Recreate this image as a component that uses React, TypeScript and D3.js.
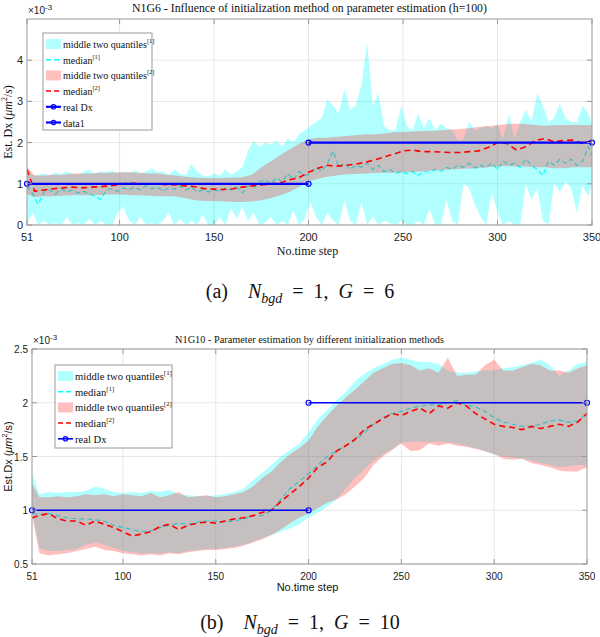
import React from 'react';
import * as d3 from 'd3';

// time steps (x axis index)
const steps3 = [...d3.range(51, 349, 3), 350];
const steps5 = [51, ...d3.range(55, 351, 5)];
const xTicks = [51, 100, 150, 200, 250, 300, 350];

// ---- panel (a) N1G6 ----
const cyanUpperA = [
  1.35, 1.2, 1.22, 1.25, 1.2, 1.28, 1.23, 1.3, 1.25, 1.22,
  1.3, 1.35, 1.25, 1.3, 1.28, 1.32, 1.25, 1.3, 1.27, 1.33,
  1.25, 1.3, 1.38, 1.28, 1.3, 1.22, 1.35, 1.25, 1.2, 1.48,
  1.3, 1.2, 1.18, 1.25, 1.2, 1.35, 1.22, 1.3, 1.4, 1.8,
  2.05, 1.9, 2.0, 1.95, 2.05, 1.9, 2.1, 2.0, 2.2, 2.3,
  2.4, 2.5, 2.6, 3.05, 2.9, 2.7, 3.3, 2.8, 2.9, 3.4,
  4.45, 2.9, 3.2, 2.4, 2.3, 2.3, 2.9, 2.4, 2.3, 2.7,
  2.35, 2.6, 2.3, 2.45, 2.35, 2.3, 2.05, 2.1, 2.5, 2.3,
  2.35, 2.4, 2.35, 2.45, 2.1, 2.7, 2.1, 2.5, 2.8, 2.5,
  3.2, 2.9, 2.5, 2.6, 2.95, 2.6, 2.5, 2.5, 2.9, 2.7,
  2.45,
];
const cyanLowerA = [
  0.05, 0.3, 0.0, 0.1, 0.0, 0.05, 0.0, 0.2, 0.0, 0.05,
  0.0, 0.15, 0.0, 0.1, 0.0, 0.0, 0.3, 0.45, 0.1, 0.0,
  0.2, 0.0, 0.05, 0.0, 0.1, 0.3, 0.0, 0.15, 0.0, 0.1,
  0.0, 0.25, 0.0, 0.0, 0.2, 0.0, 0.4, 0.15, 0.45, 0.1,
  0.3, 0.0, 0.05, 0.2, 0.0, 0.1, 0.0, 0.35, 0.0, 0.15,
  0.55, 0.2, 0.0, 0.3, 0.1, 0.0, 0.6, 0.1, 0.0, 0.55,
  0.0, 0.2, 0.0, 0.1, 0.05, 0.0, 0.1, 0.0, 0.0, 0.1,
  0.0, 0.4, 0.0, 0.0, 0.6, 0.1, 0.0, 1.0, 0.9, 0.5,
  0.2, 0.0, 0.8, 0.3, 0.0, 0.1, 0.0, 0.0, 1.0, 0.6,
  0.9, 0.1, 0.0, 1.0, 0.8, 1.05, 0.9, 0.3, 0.95, 0.7,
  1.0,
];
const cyanMedianA = [
  0.95, 0.75, 0.5, 0.8, 0.85, 0.75, 0.88, 0.8, 0.85, 0.78,
  0.82, 0.75, 0.7, 0.62, 0.85, 0.88, 0.82, 0.9, 0.85, 0.92,
  0.85, 0.95, 0.88, 0.92, 0.82, 0.9, 0.87, 0.95, 0.85, 0.92,
  0.8, 0.85, 0.8, 0.85, 0.82, 0.9, 0.85, 0.92, 0.78, 0.95,
  0.9, 1.05, 1.1, 1.0, 1.15, 1.05, 1.25, 1.1, 1.3, 1.2,
  1.25, 1.4, 1.3, 1.5, 1.8, 1.4, 1.5, 1.35, 1.45, 1.4,
  1.5, 1.35, 1.45, 1.3, 1.35, 1.25, 1.3, 1.25, 1.3, 1.2,
  1.3, 1.28, 1.35, 1.3, 1.4, 1.35, 1.45, 1.4, 1.5, 1.38,
  1.45, 1.4, 1.5, 1.35, 1.55, 1.45, 1.5, 1.4, 1.6, 1.45,
  1.35, 1.2, 1.55, 1.45, 1.6, 1.5, 1.6, 1.45, 1.55, 1.9,
  1.7,
];
const redUpperA = [
  1.4, 1.2, 1.2, 1.22, 1.22, 1.25, 1.25, 1.25, 1.27, 1.27,
  1.28, 1.28, 1.27, 1.25, 1.25, 1.22, 1.2, 1.17, 1.15, 1.14,
  1.14, 1.14, 1.15, 1.16, 1.22, 1.4, 1.55, 1.7, 1.83, 1.97,
  2.08, 2.12, 2.12, 2.14, 2.16, 2.18, 2.2, 2.2, 2.22, 2.25,
  2.26, 2.27, 2.28, 2.28, 2.3, 2.32, 2.33, 2.35, 2.38, 2.4,
  2.42, 2.45, 2.46, 2.45, 2.43, 2.41, 2.42, 2.43, 2.43, 2.43,
  2.42,
];
const redLowerA = [
  0.75, 0.68, 0.7, 0.7, 0.71, 0.72, 0.72, 0.72, 0.73, 0.74,
  0.74, 0.73, 0.72, 0.71, 0.7, 0.7, 0.69, 0.65, 0.6, 0.58,
  0.58, 0.57, 0.56, 0.56, 0.57, 0.6, 0.65, 0.72, 0.8, 0.92,
  1.05, 1.12, 1.17, 1.2, 1.23, 1.24, 1.25, 1.26, 1.27, 1.27,
  1.28, 1.29, 1.3, 1.32, 1.33, 1.35, 1.36, 1.37, 1.38, 1.4,
  1.42, 1.43, 1.42, 1.42, 1.4, 1.4, 1.38, 1.38, 1.4, 1.4,
  1.4,
];
const redMedianA = [
  1.35, 0.82, 0.85, 0.88, 0.9, 0.92, 0.9, 0.92, 0.93, 0.95,
  0.98, 1.02, 1.0, 1.0, 1.0, 0.98, 0.97, 0.95, 0.93, 0.88,
  0.87, 0.86, 0.88, 0.92, 0.95, 0.97, 1.0, 1.02, 1.1, 1.15,
  1.28, 1.38, 1.45, 1.43, 1.45, 1.48, 1.52, 1.58, 1.65, 1.72,
  1.8, 1.82, 1.78, 1.78, 1.77, 1.76, 1.76, 1.78, 1.8, 1.88,
  2.0, 1.98, 1.82, 1.9, 2.05, 2.1, 2.02, 2.05, 2.06, 1.98,
  2.05,
];

// ---- panel (b) N1G10 ----
const cyanUpperB = [
  1.35, 1.15, 1.17, 1.16, 1.17, 1.17, 1.18, 1.22, 1.2, 1.17,
  1.16, 1.17, 1.16, 1.18, 1.17, 1.19, 1.15, 1.14, 1.13, 1.13,
  1.14, 1.15, 1.17, 1.2, 1.28, 1.35, 1.42, 1.5, 1.56, 1.62,
  1.72, 1.85, 1.93, 2.02, 2.1, 2.2, 2.27, 2.32, 2.36, 2.4,
  2.42, 2.4, 2.38, 2.38, 2.36, 2.3, 2.28, 2.28, 2.29, 2.3,
  2.3, 2.32, 2.33, 2.35, 2.37, 2.4, 2.35, 2.25, 2.3, 2.36,
  2.38,
];
const cyanLowerB = [
  1.0, 0.65, 0.62, 0.62, 0.63, 0.64, 0.68, 0.7, 0.68, 0.65,
  0.62, 0.61, 0.6, 0.6, 0.6, 0.61, 0.6, 0.62, 0.63, 0.64,
  0.64, 0.65, 0.66, 0.68, 0.71, 0.74, 0.77, 0.8, 0.83, 0.87,
  0.93, 0.98, 1.03, 1.1, 1.2, 1.3, 1.38, 1.46, 1.52, 1.57,
  1.63, 1.64, 1.64, 1.63, 1.64, 1.63, 1.62, 1.6, 1.58, 1.55,
  1.52, 1.5, 1.49, 1.48, 1.46, 1.44, 1.42, 1.4, 1.41, 1.42,
  1.42,
];
const cyanMedianB = [
  0.97, 0.96, 0.97, 0.95, 0.93, 0.92, 0.92, 0.91, 0.9, 0.86,
  0.84, 0.82, 0.8, 0.81, 0.84, 0.86, 0.88, 0.87, 0.89, 0.9,
  0.9, 0.89, 0.9, 0.92, 0.95, 0.95, 1.0, 1.1, 1.2, 1.27,
  1.34, 1.42, 1.5, 1.55, 1.6, 1.65, 1.72, 1.8, 1.86, 1.9,
  1.92, 1.95, 1.97, 1.98, 1.98, 2.0, 2.02, 1.98, 1.96, 1.92,
  1.86, 1.82, 1.8, 1.78, 1.78, 1.8, 1.83, 1.84, 1.82, 1.83,
  1.9,
];
const redUpperB = [
  1.25, 1.12, 1.12, 1.13, 1.12, 1.13, 1.15, 1.14, 1.15, 1.13,
  1.15, 1.14, 1.13, 1.16, 1.12, 1.14, 1.17, 1.12, 1.13, 1.14,
  1.12, 1.13, 1.15, 1.17, 1.22, 1.3, 1.36, 1.45, 1.52, 1.58,
  1.65, 1.78, 1.88, 1.97, 2.05, 2.12, 2.2, 2.28, 2.32, 2.36,
  2.37, 2.35, 2.3, 2.32, 2.28, 2.42, 2.25, 2.26, 2.26, 2.35,
  2.4, 2.3, 2.3, 2.33, 2.36, 2.35, 2.3, 2.3, 2.28, 2.32,
  2.35,
];
const redLowerB = [
  0.95, 0.6, 0.58, 0.59, 0.6, 0.62, 0.64, 0.66, 0.63, 0.62,
  0.6, 0.59, 0.58, 0.59, 0.58, 0.6, 0.59, 0.61, 0.62, 0.63,
  0.63, 0.64, 0.65, 0.67, 0.7, 0.73, 0.77, 0.82, 0.88, 0.93,
  0.97, 1.02, 1.07, 1.1, 1.15, 1.22, 1.3, 1.42, 1.5, 1.56,
  1.62, 1.55, 1.56, 1.62, 1.6, 1.62, 1.6, 1.59, 1.57, 1.55,
  1.52, 1.48, 1.47, 1.48, 1.44, 1.42, 1.4, 1.37, 1.36, 1.36,
  1.4,
];
const redMedianB = [
  0.93, 0.95, 0.97, 0.92, 0.9, 0.9, 0.86, 0.9, 0.87, 0.84,
  0.8, 0.76, 0.78, 0.8, 0.85, 0.87, 0.82, 0.86, 0.88, 0.89,
  0.88, 0.9, 0.92, 0.93, 0.95, 0.98, 1.0, 1.08, 1.15, 1.22,
  1.3, 1.4, 1.45, 1.55, 1.6, 1.66, 1.75, 1.8, 1.85, 1.9,
  1.88, 1.92, 1.95, 1.9, 1.97, 1.95, 2.0, 1.97, 1.9, 1.85,
  1.8, 1.78, 1.77, 1.75, 1.78, 1.76, 1.78, 1.8, 1.78, 1.82,
  1.9,
];

// real Dx step
const realSteps = [51, 200, 350];
const realValues = [1, 1, 2];

const SERIF = "'Liberation Serif', 'DejaVu Serif', serif";
const SANS = "'Liberation Sans', Arial, sans-serif";
const BOX = '#9a9a9a';
const GRID = '#e6e6e6';

const panels = [
  {
    id: 'a',
    left: 27, right: 592, top: 19, bottom: 225,
    yDomain: [0, 5], yTicks: [0, 1, 2, 3, 4],
    cyan: { xs: steps3, up: cyanUpperA, lo: cyanLowerA, med: cyanMedianA },
    red: { xs: steps5, up: redUpperA, lo: redLowerA, med: redMedianA },
    title: 'N1G6 - Influence of initialization method on parameter estimation (h=100)',
    titleSize: 11.8, titleY: 12,
    tickFont: SANS, tickSize: 11,
    labelFont: SERIF, labelSize: 12, yLabelPre: 'Est. Dx ', xLabelY: 255,
    blueWidth: 2.2,
    legend: { x: 43, y: 33, w: 109, h: 97, rows: 6, font: 10, tx: 63 },
    capY: 298, cap: '(a)', capG: '6',
  },
  {
    id: 'b',
    left: 32, right: 587, top: 349, bottom: 564,
    yDomain: [0.5, 2.5], yTicks: [0.5, 1, 1.5, 2, 2.5],
    cyan: { xs: steps5, up: cyanUpperB, lo: cyanLowerB, med: cyanMedianB },
    red: { xs: steps5, up: redUpperB, lo: redLowerB, med: redMedianB },
    title: 'N1G10 - Parameter estimation by different initialization methods',
    titleSize: 10.3, titleY: 343,
    tickFont: SANS, tickSize: 10,
    labelFont: SANS, labelSize: 11, yLabelPre: 'Est.Dx ', xLabelY: 591,
    blueWidth: 1.6,
    legend: { x: 55, y: 365, w: 117, h: 83, rows: 5, font: 10.6, tx: 75 },
    capY: 629, cap: '(b)', capG: '10',
  },
];

const Legend = ({ p }: { p: any }) => {
  const { x, y, w, h, rows, font, tx } = p.legend;
  const rowH = 15.7;
  const sw0 = x + 3;
  const sw1 = tx - 2;
  const items = [
    { kind: 'patch', color: '#00ffff', op: 0.3, label: 'middle two quantiles', sup: '[1]' },
    { kind: 'line', color: '#00ffff', label: 'median', sup: '[1]' },
    { kind: 'patch', color: '#ff0000', op: 0.25, label: 'middle two quantiles', sup: '[2]' },
    { kind: 'line', color: '#ff0000', label: 'median', sup: '[2]' },
    { kind: 'marker', color: '#0000ff', label: 'real Dx' },
    { kind: 'marker', color: '#0000ff', label: 'data1' },
  ].slice(0, rows);
  return (
    <g>
      <rect x={x} y={y} width={w} height={h} fill="#fff" stroke={BOX} strokeWidth={1} />
      {items.map((it, i) => {
        const cy = y + 11 + i * rowH;
        return (
          <g key={i}>
            {it.kind === 'patch' && (
              <rect x={sw0} y={cy - 5} width={sw1 - sw0} height={10} fill={it.color} fillOpacity={it.op} />
            )}
            {it.kind === 'line' && (
              <line x1={sw0} x2={sw1} y1={cy} y2={cy} stroke={it.color} strokeWidth={1.5} strokeDasharray="5,3" />
            )}
            {it.kind === 'marker' && (
              <g>
                <line x1={sw0} x2={sw1} y1={cy} y2={cy} stroke={it.color} strokeWidth={p.blueWidth} />
                <circle cx={(sw0 + sw1) / 2} cy={cy} r={2.2} fill="none" stroke={it.color} strokeWidth={1.2} />
              </g>
            )}
            <text x={tx} y={cy + 4} fontFamily={SERIF} fontSize={font} fill="#111">
              {it.label}
              {it.sup && (
                <tspan fontSize={font * 0.65} dy={-5}>{it.sup}</tspan>
              )}
            </text>
          </g>
        );
      })}
    </g>
  );
};

const Panel = ({ p }: { p: any }) => {
  const x = d3.scaleLinear().domain([51, 350]).range([p.left, p.right]);
  const y = d3.scaleLinear().domain(p.yDomain).range([p.bottom, p.top]);
  const band = (xs: number[], up: number[], lo: number[]) =>
    d3.area<number>()
      .x((_, i) => x(xs[i]))
      .y0((_, i) => y(lo[i]))
      .y1((d) => y(d))(up) || '';
  const path = (xs: number[], vs: number[]) =>
    d3.line<number>().x((_, i) => x(xs[i])).y((d) => y(d))(vs) || '';
  const clipId = `clip-${p.id}`;
  const cx = (p.left + p.right) / 2;
  const cyMid = (p.top + p.bottom) / 2;
  const blueA = [0, 1].map((i) => ({ t: realSteps[i], v: realValues[0] }));
  const blueB = [1, 2].map((i) => ({ t: realSteps[i], v: realValues[2] }));
  return (
    <g>
      <defs>
        <clipPath id={clipId}>
          <rect x={p.left} y={p.top} width={p.right - p.left} height={p.bottom - p.top} />
        </clipPath>
      </defs>
      <rect x={p.left} y={p.top} width={p.right - p.left} height={p.bottom - p.top} fill="#fff" />
      {/* grid */}
      {xTicks.slice(1, -1).map((t) => (
        <line key={'gx' + t} x1={x(t)} x2={x(t)} y1={p.top} y2={p.bottom} stroke={GRID} />
      ))}
      {p.yTicks.map((t: number) => (
        <line key={'gy' + t} x1={p.left} x2={p.right} y1={y(t)} y2={y(t)} stroke={GRID} />
      ))}
      <g clipPath={`url(#${clipId})`}>
        <path d={band(p.cyan.xs, p.cyan.up, p.cyan.lo)} fill="#00ffff" fillOpacity={0.3} />
        <path d={path(p.cyan.xs, p.cyan.med)} fill="none" stroke="#00ffff" strokeWidth={1.2} strokeDasharray="5,3" />
        <path d={band(p.red.xs, p.red.up, p.red.lo)} fill="#ff0000" fillOpacity={0.25} />
        <path d={path(p.red.xs, p.red.med)} fill="none" stroke="#ff0000" strokeWidth={1.6} strokeDasharray="6,4" />
      </g>
      {[blueA, blueB].map((seg, k) => (
        <g key={'b' + k}>
          <line x1={x(seg[0].t)} x2={x(seg[1].t)} y1={y(seg[0].v)} y2={y(seg[1].v)} stroke="#0000ff" strokeWidth={p.blueWidth} />
          {seg.map((d, j) => (
            <circle key={j} cx={x(d.t)} cy={y(d.v)} r={2.5} fill="none" stroke="#0000ff" strokeWidth={1.2} />
          ))}
        </g>
      ))}
      {/* box + ticks */}
      <rect x={p.left} y={p.top} width={p.right - p.left} height={p.bottom - p.top} fill="none" stroke={BOX} />
      {xTicks.map((t) => (
        <g key={'tx' + t}>
          <line x1={x(t)} x2={x(t)} y1={p.bottom} y2={p.bottom - 5} stroke={BOX} />
          <line x1={x(t)} x2={x(t)} y1={p.top} y2={p.top + 5} stroke={BOX} />
          <text x={x(t)} y={p.bottom + 16} textAnchor="middle" fontFamily={p.tickFont} fontSize={p.tickSize} fill="#222">
            {t}
          </text>
        </g>
      ))}
      {p.yTicks.map((t: number) => (
        <g key={'ty' + t}>
          <line x1={p.left} x2={p.left + 5} y1={y(t)} y2={y(t)} stroke={BOX} />
          <line x1={p.right} x2={p.right - 5} y1={y(t)} y2={y(t)} stroke={BOX} />
          <text x={p.left - 4} y={y(t) + 4} textAnchor="end" fontFamily={p.tickFont} fontSize={p.tickSize} fill="#222">
            {String(t)}
          </text>
        </g>
      ))}
      {/* exponent */}
      <text x={p.left + 1} y={p.top - 5} fontFamily={SANS} fontSize={10} fill="#222">
        ×10<tspan fontSize={8} dy={-4}>-3</tspan>
      </text>
      {/* title */}
      <text x={cx} y={p.titleY} textAnchor="middle" fontFamily={SERIF} fontSize={p.titleSize} fill="#111">
        {p.title}
      </text>
      {/* axis labels */}
      <text x={cx - 2} y={p.xLabelY} textAnchor="middle" fontFamily={p.labelFont} fontSize={p.labelSize} fill="#111">
        No.time step
      </text>
      <text transform={`translate(12,${cyMid}) rotate(-90)`} textAnchor="middle" fontFamily={p.labelFont} fontSize={p.labelSize} fill="#111">
        {p.yLabelPre}(<tspan fontStyle="italic">μm</tspan>
        <tspan fontSize={p.labelSize * 0.65} dy={-5}>2</tspan>
        <tspan dy={5}>/</tspan>
        <tspan fontStyle={p.id === 'a' ? 'italic' : 'normal'}>s</tspan>)
      </text>
      <Legend p={p} />
      {/* caption */}
      <text x={300} y={p.capY} textAnchor="middle" fontFamily={SERIF} fontSize={20} fill="#111">
        {p.cap}{'\u2002\u2002'}
        <tspan fontStyle="italic">N</tspan>
        <tspan fontStyle="italic" fontSize={14} dy={5}>bgd</tspan>
        <tspan dy={-5}>{'\u2002=\u20021,\u2002'}</tspan>
        <tspan fontStyle="italic">G</tspan>
        <tspan>{'\u2002=\u2002' + p.capG}</tspan>
      </text>
    </g>
  );
};

export default function App() {
  return (
    <svg width={600} height={637} style={{ position: 'absolute', left: 0, top: 0, background: '#fff' }}>
      <rect width={600} height={637} fill="#fff" />
      {panels.map((p) => (
        <Panel key={p.id} p={p} />
      ))}
    </svg>
  );
}
